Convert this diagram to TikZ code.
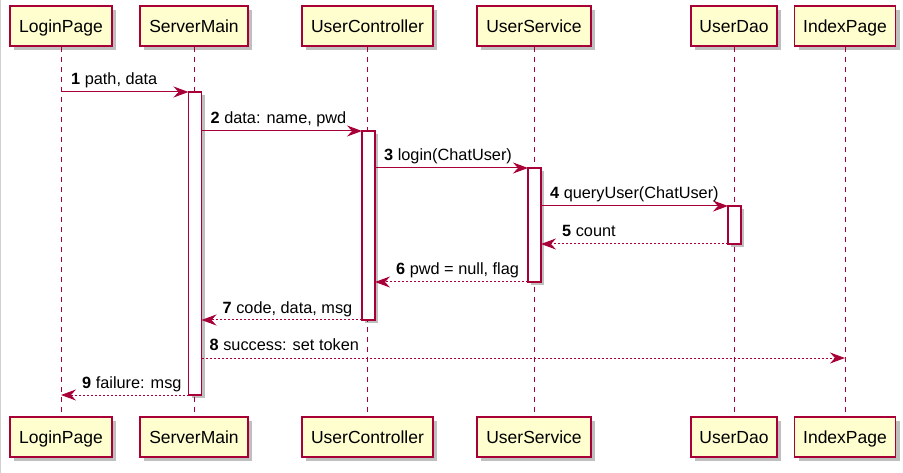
\documentclass[tikz,border=0pt]{standalone}
\usepackage{fontspec}
\setmainfont{Liberation Sans}
\usetikzlibrary{arrows.meta,shadows}
\definecolor{pborder}{HTML}{A80036}
\definecolor{pfill}{HTML}{FEFECE}
\tikzset{
  part/.style={draw=pborder, fill=pfill, line width=1.4pt, minimum height=40pt, inner sep=0pt,
     font=\fontsize{17.5}{20}\selectfont, text height=13.5pt, text depth=0pt,
     drop shadow={shadow xshift=4pt, shadow yshift=-4pt, opacity=0.25, fill=black}},
  lifeline/.style={draw=pborder, line width=1pt, dash pattern=on 5pt off 5pt},
  actbox/.style={draw=pborder, fill=white, line width=1.1pt,
     drop shadow={shadow xshift=3pt, shadow yshift=-3pt, opacity=0.25, fill=black}},
  msg/.style={draw=pborder, line width=1pt, -{Stealth[length=15pt, width=11pt, inset=5pt]}},
  ret/.style={msg, dash pattern=on 2pt off 2pt},
  lbl/.style={anchor=base west, inner sep=0pt, font=\fontsize{16.3}{19}\selectfont},
}
\begin{document}
\begin{tikzpicture}[x=1pt,y=-1pt]
\useasboundingbox (0,0) rectangle (903,473);
\draw[line width=1pt, black!18] (0.5,0) -- (0.5,473);
% participants top
\node[part, minimum width=102pt] (lpT) at (61,26) {LoginPage};
\node[part, minimum width=108pt] (smT) at (194,26) {ServerMain};
\node[part, minimum width=131pt] (ucT) at (367.5,26) {UserController};
\node[part, minimum width=114pt] (usT) at (534,26) {UserService};
\node[part, minimum width=86pt] (udT) at (734,26) {UserDao};
\node[part, minimum width=101pt] (ipT) at (845,26) {IndexPage};
% participants bottom
\node[part, minimum width=102pt] (lpB) at (61,437) {LoginPage};
\node[part, minimum width=108pt] (smB) at (194,437) {ServerMain};
\node[part, minimum width=131pt] (ucB) at (367.5,437) {UserController};
\node[part, minimum width=114pt] (usB) at (534,437) {UserService};
\node[part, minimum width=86pt] (udB) at (734,437) {UserDao};
\node[part, minimum width=101pt] (ipB) at (845,437) {IndexPage};
% lifelines
\foreach \p in {lp,sm,uc,us,ud,ip}{
  \draw[lifeline] (\p T.south) -- (\p B.north);
}
% activation bars
\draw[actbox] (188.5,92) rectangle (201.5,395);
\draw[actbox] (362,131) rectangle (375,320);
\draw[actbox] (528,168) rectangle (541,282);
\draw[actbox] (728,206) rectangle (741,244);
% message end points
\coordinate (a1) at (lpT.south |- 0,92);   \coordinate (b1) at (188.5,92);
\coordinate (a2) at (201.5,131);            \coordinate (b2) at (362,131);
\coordinate (a3) at (375,168);              \coordinate (b3) at (528,168);
\coordinate (a4) at (541,206);              \coordinate (b4) at (728,206);
\coordinate (a5) at (728,244);              \coordinate (b5) at (541,244);
\coordinate (a6) at (528,282);              \coordinate (b6) at (375,282);
\coordinate (a7) at (362,320);              \coordinate (b7) at (201.5,320);
\coordinate (a8) at (201.5,358);            \coordinate (b8) at (ipT.south |- 0,358);
\coordinate (a9) at (188.5,395);            \coordinate (b9) at (lpT.south |- 0,395);
% messages
\draw[msg] (a1) -- (b1);
\draw[msg] (a2) -- (b2);
\draw[msg] (a3) -- (b3);
\draw[msg] (a4) -- (b4);
\draw[ret] (a5) -- (b5);
\draw[ret] (a6) -- (b6);
\draw[ret] (a7) -- (b7);
\draw[ret] (a8) -- (b8);
\draw[ret] (a9) -- (b9);
% labels
\node[lbl] (l1) at ([xshift=10pt,yshift=7pt]a1) {\textbf{1} path, data};
\node[lbl] (l2) at ([xshift=9pt,yshift=7pt]a2) {\textbf{2} data: name, pwd};
\node[lbl] (l3) at ([xshift=9pt,yshift=7pt]a3) {\textbf{3} login(ChatUser)};
\node[lbl] (l4) at ([xshift=9pt,yshift=7pt]a4) {\textbf{4} queryUser(ChatUser)};
\node[lbl] (l5) at ([xshift=21pt,yshift=7pt]b5) {\textbf{5} count};
\node[lbl] (l6) at ([xshift=21pt,yshift=7pt]b6) {\textbf{6} pwd = null, flag};
\node[lbl] (l7) at ([xshift=21pt,yshift=7pt]b7) {\textbf{7} code, data, msg};
\node[lbl] (l8) at ([xshift=8pt,yshift=7pt]a8) {\textbf{8} success: set token};
\node[lbl] (l9) at ([xshift=21pt,yshift=7pt]b9) {\textbf{9} failure: msg};
\end{tikzpicture}
\end{document}
